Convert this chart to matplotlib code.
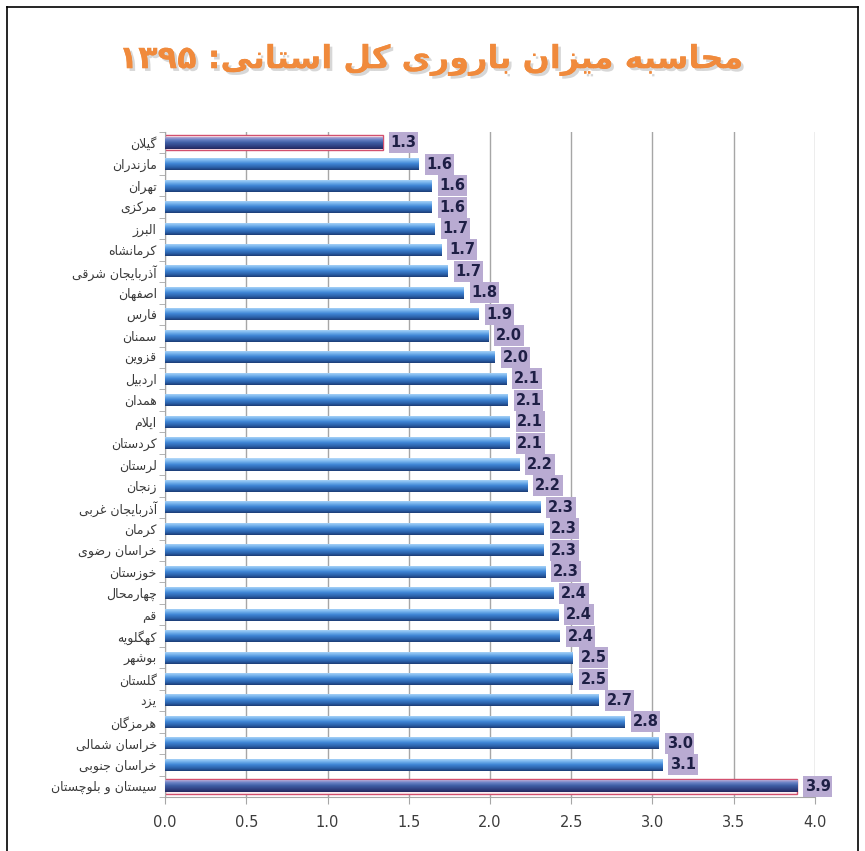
import numpy as np
import matplotlib
matplotlib.use("Agg")
import matplotlib.pyplot as plt
from matplotlib.patches import Rectangle
from matplotlib.lines import Line2D
from matplotlib.colors import LinearSegmentedColormap
import matplotlib.patheffects as pe

# ---------------- data ----------------
title_text = "محاسبه میزان باروری کل استانی: ۱۳۹۵"
provinces = ["گیلان", "مازندران", "تهران", "مرکزی", "البرز", "کرمانشاه",
             "آذربایجان شرقی", "اصفهان", "فارس", "سمنان", "قزوین", "اردبیل",
             "همدان", "ایلام", "کردستان", "لرستان", "زنجان", "آذربایجان غربی",
             "کرمان", "خراسان رضوی", "خوزستان", "چهارمحال", "قم", "کهگلویه",
             "بوشهر", "گلستان", "یزد", "هرمزگان", "خراسان شمالی",
             "خراسان جنوبی", "سیستان و بلوچستان"]
tfr = [1.34, 1.56, 1.64, 1.64, 1.66, 1.70, 1.74, 1.84, 1.93, 1.99, 2.03,
       2.10, 2.11, 2.12, 2.12, 2.18, 2.23, 2.31, 2.33, 2.33, 2.34, 2.39,
       2.42, 2.43, 2.51, 2.51, 2.67, 2.83, 3.04, 3.06, 3.89]
highlighted = ["گیلان", "سیستان و بلوچستان"]
xticks = [0.0, 0.5, 1.0, 1.5, 2.0, 2.5, 3.0, 3.5, 4.0]

# ------------- minimal Persian shaper (matplotlib has no shaping) -------------
FORMS = {
    'ا': (0xFE8D, 0xFE8E), 'آ': (0xFE81, 0xFE82),
    'ب': (0xFE8F, 0xFE90, 0xFE91, 0xFE92), 'پ': (0xFB56, 0xFB57, 0xFB58, 0xFB59),
    'ت': (0xFE95, 0xFE96, 0xFE97, 0xFE98), 'ث': (0xFE99, 0xFE9A, 0xFE9B, 0xFE9C),
    'ج': (0xFE9D, 0xFE9E, 0xFE9F, 0xFEA0), 'چ': (0xFB7A, 0xFB7B, 0xFB7C, 0xFB7D),
    'ح': (0xFEA1, 0xFEA2, 0xFEA3, 0xFEA4), 'خ': (0xFEA5, 0xFEA6, 0xFEA7, 0xFEA8),
    'د': (0xFEA9, 0xFEAA), 'ذ': (0xFEAB, 0xFEAC), 'ر': (0xFEAD, 0xFEAE),
    'ز': (0xFEAF, 0xFEB0), 'ژ': (0xFB8A, 0xFB8B),
    'س': (0xFEB1, 0xFEB2, 0xFEB3, 0xFEB4), 'ش': (0xFEB5, 0xFEB6, 0xFEB7, 0xFEB8),
    'ص': (0xFEB9, 0xFEBA, 0xFEBB, 0xFEBC), 'ض': (0xFEBD, 0xFEBE, 0xFEBF, 0xFEC0),
    'ط': (0xFEC1, 0xFEC2, 0xFEC3, 0xFEC4), 'ظ': (0xFEC5, 0xFEC6, 0xFEC7, 0xFEC8),
    'ع': (0xFEC9, 0xFECA, 0xFECB, 0xFECC), 'غ': (0xFECD, 0xFECE, 0xFECF, 0xFED0),
    'ف': (0xFED1, 0xFED2, 0xFED3, 0xFED4), 'ق': (0xFED5, 0xFED6, 0xFED7, 0xFED8),
    'ک': (0xFB8E, 0xFB8F, 0xFB90, 0xFB91), 'گ': (0xFB92, 0xFB93, 0xFB94, 0xFB95),
    'ل': (0xFEDD, 0xFEDE, 0xFEDF, 0xFEE0), 'م': (0xFEE1, 0xFEE2, 0xFEE3, 0xFEE4),
    'ن': (0xFEE5, 0xFEE6, 0xFEE7, 0xFEE8), 'و': (0xFEED, 0xFEEE),
    'ه': (0xFEE9, 0xFEEA, 0xFEEB, 0xFEEC), 'ی': (0xFBFC, 0xFBFD, 0xFBFE, 0xFBFF),
}
DIGITS = set("0123456789۰۱۲۳۴۵۶۷۸۹")


def shape(text):
    chars = list(text)
    out = []
    i = 0
    n = len(chars)
    while i < n:
        c = chars[i]
        if c not in FORMS:
            out.append(c)
            i += 1
            continue
        prev = chars[i - 1] if i > 0 else None
        joins_prev = prev in FORMS and len(FORMS[prev]) == 4 and not (
            out and out[-1] in ('\uFEFB', '\uFEFC'))
        if c == 'ل' and i + 1 < n and chars[i + 1] == 'ا':
            out.append('\uFEFC' if joins_prev else '\uFEFB')
            i += 2
            continue
        nxt = chars[i + 1] if i + 1 < n else None
        f = FORMS[c]
        joins_next = len(f) == 4 and nxt in FORMS
        if joins_prev and joins_next:
            g = f[3]
        elif joins_prev:
            g = f[1]
        elif joins_next:
            g = f[2]
        else:
            g = f[0]
        out.append(chr(g))
        i += 1
    vis = out[::-1]
    res = []
    j = 0
    while j < len(vis):
        if vis[j] in DIGITS:
            k = j
            while k < len(vis) and vis[k] in DIGITS:
                k += 1
            res.extend(vis[j:k][::-1])
            j = k
        else:
            res.append(vis[j])
            j += 1
    return "".join(res)


# ---------------- figure ----------------
W, H = 865, 851
fig = plt.figure(figsize=(W / 100, H / 100), dpi=100)
fig.patch.set_facecolor("white")

ax = fig.add_axes([165 / W, 1 - 797 / H, (815 - 165) / W, (797 - 132) / H])
n = len(provinces)
y = np.arange(n)

ax.set_axisbelow(True)
ax.xaxis.grid(True, color="#a6a6a6", lw=1.0)
for s in ("top", "right"):
    ax.spines[s].set_visible(False)
ax.spines["left"].set_color("#a6a6a6")
ax.spines["bottom"].set_color("#a6a6a6")

bar_h = 0.56
cmap_n = LinearSegmentedColormap.from_list(
    "barn", [(0.0, "#b8dcfa"), (0.25, "#7ab6ee"), (0.5, "#3f86d6"),
             (0.8, "#2a5fa8"), (1.0, "#1c3c74")])
cmap_h = LinearSegmentedColormap.from_list(
    "barh", [(0.0, "#d9b7d9"), (0.25, "#6f86c8"), (0.5, "#3f5fa6"),
             (0.8, "#2e3f80"), (1.0, "#25285e")])
grad = np.linspace(0, 1, 64).reshape(-1, 1)

for i, (name, v) in enumerate(zip(provinces, tfr)):
    hl = name in highlighted
    if hl:
        ax.add_patch(Rectangle((0, i - 0.36), v, 0.72, facecolor="#fbeef3",
                               edgecolor="#d2506e", lw=1.0, zorder=2))
    bars = ax.barh(i, v, height=bar_h, color="none", edgecolor="none", zorder=3)
    b = bars[0]
    im = ax.imshow(grad, cmap=cmap_h if hl else cmap_n, aspect="auto",
                   extent=(0, v, i + bar_h / 2, i - bar_h / 2), zorder=3,
                   interpolation="bilinear")
    im.set_clip_path(b)
    gap = 0.037
    bw = 0.18
    ax.add_patch(Rectangle((v + gap, i - 0.49), bw, 0.98, facecolor="#b9abd2",
                           edgecolor="none", zorder=4, clip_on=False))
    ax.text(v + gap + bw / 2, i, f"{v:.1f}", ha="center", va="center",
            fontsize=10.5, fontweight="bold", color="#1e1f45", zorder=5,
            clip_on=False)

ax.set_xlim(0, 4.0)
ax.set_ylim(n - 0.5, -0.5)

ax.set_xticks(xticks)
ax.set_xticklabels([f"{t:.1f}" for t in xticks], fontsize=10.5, color="#3c3c3c")
ax.tick_params(axis="x", length=5, color="#a6a6a6", pad=8)

ax.set_yticks(y)
ax.set_yticklabels([shape(p) for p in provinces], fontsize=9, color="#3a3a3a",
                   family="DejaVu Sans")
ax.tick_params(axis="y", which="major", length=0, pad=6)
ax.set_yticks(np.arange(-0.5, n, 1.0), minor=True)
ax.tick_params(axis="y", which="minor", length=4, color="#a6a6a6")

# title
t = fig.text(432 / W, 1 - 60 / H, shape(title_text), ha="center", va="center",
             fontsize=23, fontweight="bold", color="#f08a3c", family="DejaVu Sans")
t.set_path_effects([pe.withSimplePatchShadow(offset=(2, -2), shadow_rgbFace="#b0b0b0",
                                             alpha=0.5), pe.Normal()])

# frame lines
fig.add_artist(Line2D([7 / W, 7 / W], [0, 1 - 7 / H], color="black", lw=1.2,
                      transform=fig.transFigure))
fig.add_artist(Line2D([7 / W, 858 / W], [1 - 7 / H, 1 - 7 / H], color="black", lw=1.2,
                      transform=fig.transFigure))
fig.add_artist(Line2D([858 / W, 858 / W], [1 - 7 / H, 0], color="black", lw=1.2,
                      transform=fig.transFigure))

fig.savefig("out.png", dpi=100, facecolor="white")
